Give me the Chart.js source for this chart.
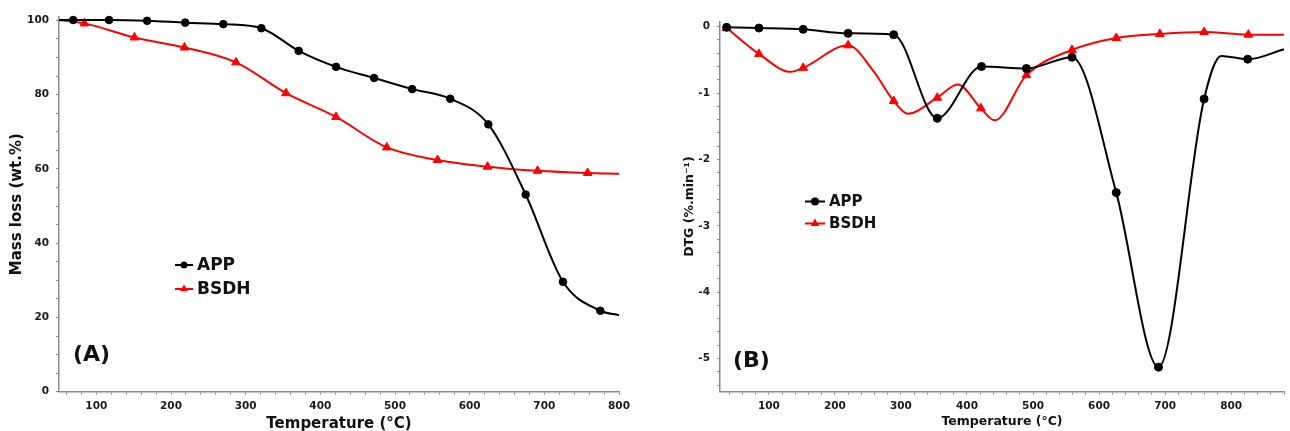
<!DOCTYPE html>
<html>
<head>
<meta charset="utf-8">
<script src="https://cdn.jsdelivr.net/npm/chart.js@4.4.1/dist/chart.umd.min.js"></script>
<style>
  body { margin: 0; background: #fff; }
  .panel { position: absolute; top: 0; }
</style>
</head>
<body>
<div class="panel" style="left:0"><canvas id="tgChart" width="645" height="431"></canvas></div>
<div class="panel" style="left:645px"><canvas id="dtgChart" width="645" height="431"></canvas></div>
<script>
// Panel A - mass loss (wt.%) vs temperature
const tempA_APP   = [50, 69, 117, 168, 219, 270, 321, 371, 421, 472, 523, 574, 625, 675, 725, 775, 800];
const massA_APP   = [100.1, 100.1, 100.1, 99.9, 99.4, 99.0, 97.9, 91.8, 87.5, 84.5, 81.5, 78.9, 72.0, 53.1, 29.6, 21.8, 20.6];
const markA_APP   = [false, true, true, true, true, true, true, true, true, true, true, true, true, true, true, true, false];

const tempA_BSDH  = [50, 84, 151, 218, 287, 354, 421, 489, 557, 624, 691, 758, 800];
const massA_BSDH  = [100.1, 99.2, 95.4, 92.7, 88.7, 80.4, 74.0, 65.8, 62.4, 60.6, 59.5, 58.9, 58.7];
const markA_BSDH  = [false, true, true, true, true, true, true, true, true, true, true, true, false];

// Panel B - DTG (%.min-1) vs temperature
const tempB_APP   = [36, 85, 152, 220, 289, 355, 422, 490, 559, 626, 690, 759, 785, 825, 880];
const dtgB_APP    = [-0.01, -0.02, -0.04, -0.10, -0.12, -1.38, -0.60, -0.63, -0.46, -2.50, -5.13, -1.09, -0.44, -0.49, -0.34];
const markB_APP   = [true, true, true, true, true, true, true, true, true, true, true, true, false, true, false];

const tempB_BSDH  = [36, 85, 133, 152, 220, 257, 289, 310, 355, 386, 421, 442, 490, 559, 626, 692, 759, 826, 880];
const dtgB_BSDH   = [-0.02, -0.41, -0.68, -0.62, -0.28, -0.65, -1.12, -1.31, -1.07, -0.87, -1.23, -1.41, -0.73, -0.35, -0.17, -0.11, -0.08, -0.12, -0.12];
const markB_BSDH  = [true, true, false, true, true, false, true, false, true, false, true, false, true, true, true, true, true, true, false];

// tick labels
const xTickLabels  = [100, 200, 300, 400, 500, 600, 700, 800];
const yTickLabelsA = [0, 20, 40, 60, 80, 100];
const yTickLabelsB = [0, -1, -2, -3, -4, -5];

const FONT = '"DejaVu Sans", Verdana, sans-serif';
const AXIS_GREY = '#8a8a8a';

function series(label, temps, values, marked, color, style, r) {
    return {
        label: label,
        data: temps.map((t, i) => ({ x: t, y: values[i] })),
        borderColor: color,
        backgroundColor: color,
        borderWidth: 2,
        pointStyle: style,
        pointRadius: marked.map(m => m ? r : 0),
        pointBorderWidth: 1,
        pointHoverRadius: 0,
        cubicInterpolationMode: 'monotone',
        clip: false
    };
}

// all tick marks (minor included), labels only where listed
function tickAxis(opts) {
    return {
        type: 'linear',
        min: opts.min,
        max: opts.max,
        afterBuildTicks: scale => {
            const vals = [];
            for (let v = opts.first; v <= opts.last + 1e-9; v += opts.step) {
                vals.push({ value: Math.round(v * 1000) / 1000 });
            }
            scale.ticks = vals;
        },
        afterFit: opts.fit,
        ticks: {
            autoSkip: false,
            maxRotation: 0,
            padding: opts.pad,
            color: '#1a1a1a',
            font: { family: FONT, size: 10.5, weight: 'bold' },
            callback: v => opts.labels.includes(v) ? String(v) : ''
        },
        grid: {
            drawOnChartArea: false,
            drawTicks: true,
            tickLength: 3,
            color: AXIS_GREY,
            lineWidth: 1
        },
        border: { color: AXIS_GREY, width: 1.5 },
        title: {
            display: true,
            text: opts.title,
            color: '#111',
            font: { family: FONT, size: opts.titleSize, weight: 'bold' },
            padding: opts.titlePad
        }
    };
}

// legend and panel tag drawn inside the plot
const panelDecor = {
    id: 'panelDecor',
    afterDraw(chart, args, o) {
        const ctx = chart.ctx;
        ctx.save();
        chart.data.datasets.forEach((ds, i) => {
            const y = o.legendY + i * o.legendGap;
            const cx = o.legendX + o.lineLen / 2;
            ctx.strokeStyle = ds.borderColor;
            ctx.fillStyle = ds.borderColor;
            ctx.lineWidth = 2;
            ctx.beginPath();
            ctx.moveTo(o.legendX, y);
            ctx.lineTo(o.legendX + o.lineLen, y);
            ctx.stroke();
            ctx.beginPath();
            if (ds.pointStyle === 'triangle') {
                const r = o.markR + 1;
                ctx.moveTo(cx, y - r);
                ctx.lineTo(cx + r * 0.87, y + r * 0.5);
                ctx.lineTo(cx - r * 0.87, y + r * 0.5);
                ctx.closePath();
            } else {
                ctx.arc(cx, y, o.markR, 0, Math.PI * 2);
            }
            ctx.fill();
            ctx.fillStyle = '#111';
            ctx.font = 'bold ' + o.fontSize + 'px ' + FONT;
            ctx.textBaseline = 'middle';
            ctx.textAlign = 'left';
            ctx.fillText(ds.label, o.legendX + o.lineLen + 4, y + 1);
        });
        ctx.font = 'bold 22px ' + FONT;
        ctx.fillStyle = '#111';
        ctx.textBaseline = 'middle';
        ctx.fillText(o.tag, o.tagX, o.tagY);
        ctx.restore();
    }
};

const common = {
    responsive: false,
    animation: false,
    events: []
};

new Chart(document.getElementById('tgChart'), {
    type: 'line',
    data: {
        datasets: [
            series('APP', tempA_APP, massA_APP, markA_APP, '#000000', 'circle', 3.8),
            series('BSDH', tempA_BSDH, massA_BSDH, markA_BSDH, '#ff0000', 'triangle', 5)
        ]
    },
    plugins: [panelDecor],
    options: Object.assign({}, common, {
        layout: { padding: { left: 0, right: 26, top: 16.7, bottom: 0 } },
        scales: {
            x: tickAxis({
                min: 50, max: 800, first: 60, last: 800, step: 20, pad: 5,
                labels: xTickLabels, title: 'Temperature (°C)', titleSize: 15,
                titlePad: { top: 0, bottom: -2.5 },
                fit: s => { s.height = 39.3; }
            }),
            y: tickAxis({
                min: 0, max: 101, first: 0, last: 100, step: 5, pad: 7,
                labels: yTickLabelsA, title: 'Mass loss (wt.%)', titleSize: 15,
                titlePad: { top: 8.5, bottom: 0 },
                fit: s => { s.width = 59; }
            })
        },
        plugins: {
            legend: { display: false },
            tooltip: { enabled: false },
            panelDecor: {
                legendX: 175, legendY: 265, legendGap: 24, lineLen: 18, markR: 3.5,
                fontSize: 17, tag: '(A)', tagX: 73, tagY: 355
            }
        }
    })
});

new Chart(document.getElementById('dtgChart'), {
    type: 'line',
    data: {
        datasets: [
            series('APP', tempB_APP, dtgB_APP, markB_APP, '#000000', 'circle', 4),
            series('BSDH', tempB_BSDH, dtgB_BSDH, markB_BSDH, '#ff0000', 'triangle', 5)
        ]
    },
    plugins: [panelDecor],
    options: Object.assign({}, common, {
        layout: { padding: { left: 0, right: 0, top: 21.4, bottom: 0 } },
        scales: {
            x: tickAxis({
                min: 26, max: 880, first: 40, last: 880, step: 20, pad: 5,
                labels: xTickLabels, title: 'Temperature (°C)', titleSize: 12.5,
                titlePad: { top: 0, bottom: 2 },
                fit: s => { s.height = 39.3; }
            }),
            y: tickAxis({
                min: -5.5, max: 0.08, first: -5.4, last: 0, step: 0.2, pad: 7,
                labels: yTickLabelsB, title: 'DTG (%.min⁻¹)', titleSize: 12.5,
                titlePad: { top: 37.5, bottom: 0 },
                fit: s => { s.width = 75; }
            })
        },
        plugins: {
            legend: { display: false },
            tooltip: { enabled: false },
            panelDecor: {
                legendX: 160, legendY: 201.5, legendGap: 22, lineLen: 20, markR: 4,
                fontSize: 15, tag: '(B)', tagX: 88, tagY: 361
            }
        }
    })
});
</script>
</body>
</html>
